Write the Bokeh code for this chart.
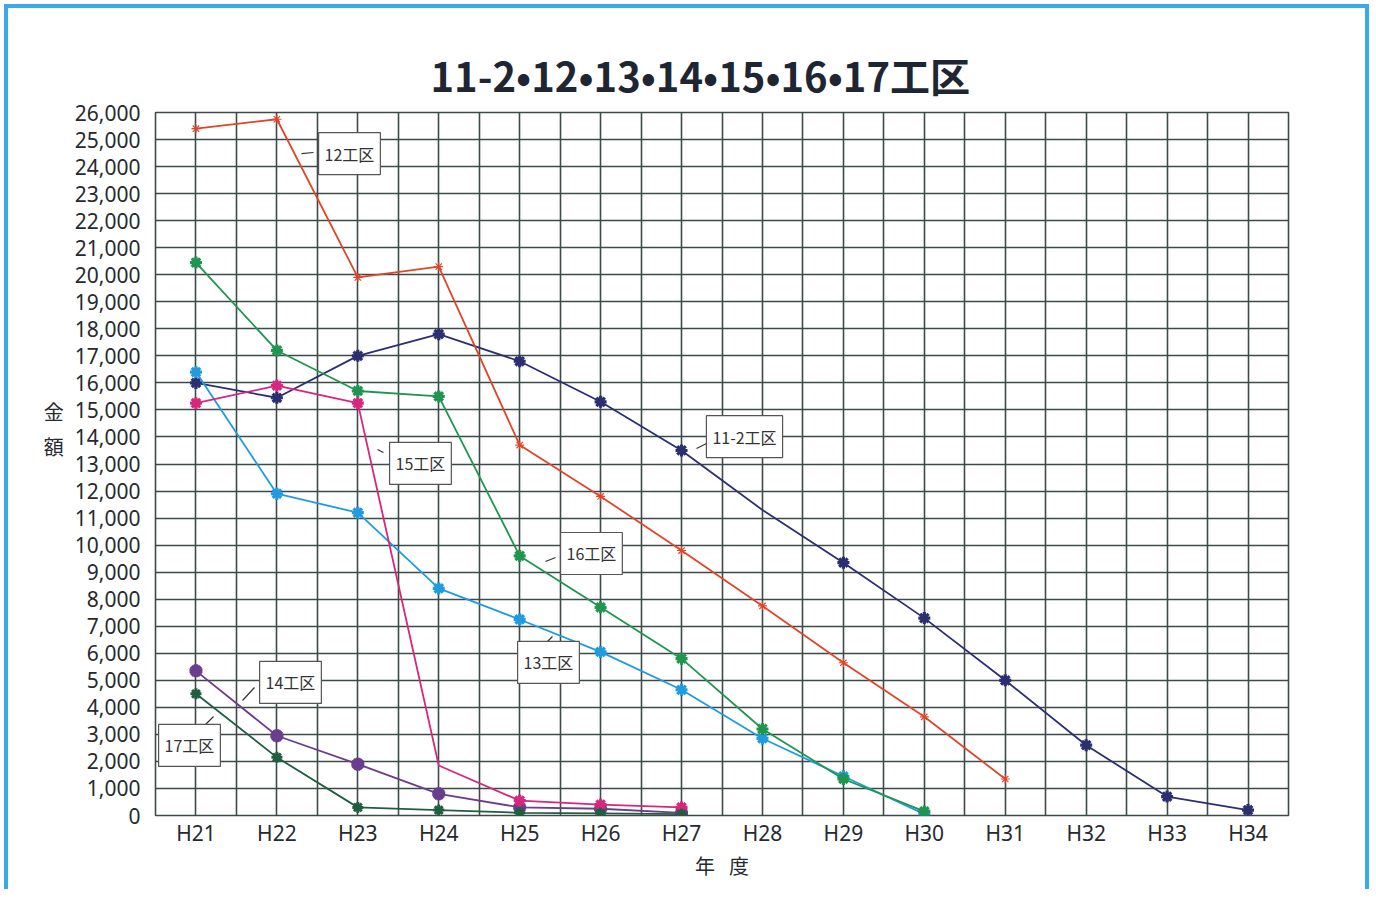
import math
from bokeh.plotting import figure
from bokeh.models import FixedTicker, NumeralTickFormatter, Range1d, Label
from bokeh.embed import file_html
from bokeh.resources import INLINE

years = ["H21", "H22", "H23", "H24", "H25", "H26", "H27", "H28", "H29", "H30", "H31", "H32", "H33", "H34"]
x_pos = list(range(21, 35))

s_11_2 = [16000, 15450, 17000, 17800, 16800, 15300, 13500, 11300, 9350, 7300, 5000, 2600, 700, 200]
s_12 = [25400, 25750, 19900, 20300, 13700, 11800, 9800, 7750, 5650, 3650, 1350, None, None, None]
s_13 = [16400, 11900, 11200, 8400, 7250, 6050, 4650, 2850, 1450, 50, None, None, None, None]
s_14 = [5350, 2950, 1900, 800, 300, 250, 100, None, None, None, None, None, None, None]
s_15 = [15250, 15900, 15250, 1850, 550, 400, 300, None, None, None, None, None, None, None]
s_16 = [20450, 17200, 15700, 15500, 9600, 7700, 5800, 3200, 1350, 150, None, None, None, None]
s_17 = [4500, 2150, 300, 200, 100, 80, 50, None, None, None, None, None, None, None]

series = [
    ("11-2工区", s_11_2, "#2b2f72", 3.2, 12, [7]),
    ("12工区", s_12, "#e0452a", 1.2, 9, []),
    ("13工区", s_13, "#1f9be0", 3.2, 12, []),
    ("14工区", s_14, "#6b3d8f", 4.5, 13, []),
    ("15工区", s_15, "#d8267f", 3.2, 12, [3]),
    ("16工区", s_16, "#1f9650", 3.2, 12, []),
    ("17工区", s_17, "#1f5e40", 3.0, 11, []),
]

# callout labels (data coordinates) and leader segments
callouts = [
    ("12工区", 22.897, 24480, (22.304, 24480, 22.452, 24520)),
    ("15工区", 23.774, 13020, (23.243, 13535, 23.317, 13424)),
    ("11-2工区", 27.778, 14010, (27.185, 13572, 27.333, 13794)),
    ("16工区", 25.887, 9690, (25.319, 9393, 25.443, 9541)),
    ("13工区", 25.356, 5660, (25.319, 6361, 25.405, 6619)),
    ("14工区", 22.168, 4920, (21.575, 4253, 21.723, 4733)),
    ("17工区", 20.920, 2590, (21.081, 3254, 21.217, 3661)),
]

grid_color = "#3e4a48"
txt_color = "#262a30"
font = "Noto Sans"
blue = "4px solid #3aa9ea"

p = figure(width=1365, height=885, output_backend="svg", toolbar_location=None,
           x_range=Range1d(20.5, 34.5), y_range=Range1d(0, 26000),
           min_border_left=147, min_border_right=85, min_border_top=104, min_border_bottom=78)
p.styles = {"border-top": blue, "border-left": blue, "border-right": blue,
            "margin-left": "4px", "margin-top": "4px"}

p.title.text = "11-2•12•13•14•15•16•17工区"
p.title.align = "left"
p.title.offset = 275
p.title.text_font = "Noto Sans CJK JP"
p.title.text_font_size = "40px"
p.title.text_font_style = "bold"
p.title.text_color = "#1f2633"
p.title.standoff = 18

p.outline_line_color = grid_color
p.outline_line_width = 1.6

p.xgrid.ticker = FixedTicker(ticks=[20.5 + 0.5 * i for i in range(29)])
p.ygrid.ticker = FixedTicker(ticks=list(range(0, 26001, 1000)))
for g in (p.xgrid, p.ygrid):
    g.grid_line_color = grid_color
    g.grid_line_width = 1.6
    g.grid_line_alpha = 1.0

p.xaxis.ticker = FixedTicker(ticks=x_pos)
p.xaxis.major_label_overrides = {x: y for x, y in zip(x_pos, years)}
p.yaxis.ticker = FixedTicker(ticks=list(range(0, 26001, 1000)))
p.yaxis.formatter = NumeralTickFormatter(format="0,0")
for ax in (p.xaxis, p.yaxis):
    ax.axis_line_color = None
    ax.major_tick_line_color = None
    ax.minor_tick_line_color = None
    ax.major_label_text_font = font
    ax.major_label_text_font_size = "21px"
    ax.major_label_text_color = txt_color
    ax.axis_label_text_font = "Noto Sans CJK JP"
    ax.axis_label_text_font_size = "20px"
    ax.axis_label_text_font_style = "normal"
    ax.axis_label_text_color = txt_color
p.xaxis.major_label_standoff = -3
p.yaxis.major_label_standoff = 9
p.xaxis.axis_label = "年\u2002\u2009度"
p.xaxis.axis_label_standoff = 1
p.yaxis.axis_label = "金\n額\n\n"
p.yaxis.axis_label_orientation = "horizontal"
p.yaxis.axis_label_standoff = 8

for name, vals, color, mlw, msize, no_marker in series:
    ys = [float("nan") if v is None else v for v in vals]
    p.line(x_pos, ys, line_color=color, line_width=1.8)
    mx = [x for i, (x, v) in enumerate(zip(x_pos, vals)) if v is not None and i not in no_marker]
    my = [v for i, v in enumerate(vals) if v is not None and i not in no_marker]
    p.scatter(mx, my, marker="asterisk", size=msize, line_color=color, line_width=mlw)

for text, cx, cy, (x0, y0, x1, y1) in callouts:
    p.segment(x0=[x0], y0=[y0], x1=[x1], y1=[y1], line_color="#333333", line_width=1.2)
    p.add_layout(Label(x=cx, y=cy, text=text, text_align="center", text_baseline="middle",
                       text_font="Noto Sans CJK JP", text_font_size="16px", text_color="#333333",
                       background_fill_color="white", border_line_color="#555555",
                       border_line_width=1.2, padding=(6, 9)))

open("out.html", "w").write(file_html(p, INLINE))
